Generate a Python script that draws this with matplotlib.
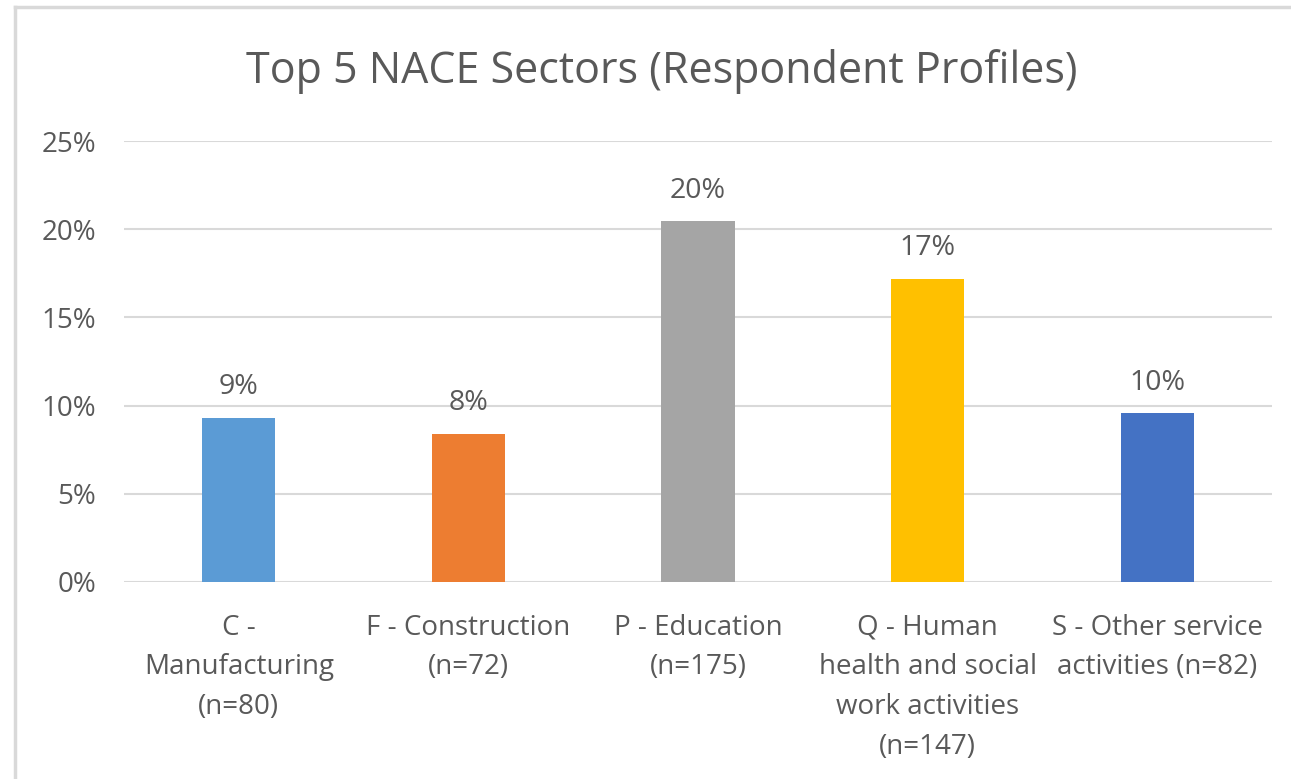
import matplotlib.pyplot as plt
from matplotlib.lines import Line2D

# Data
sectors = [
    "C -\nManufacturing\n(n=80)",
    "F - Construction\n(n=72)",
    "P - Education\n(n=175)",
    "Q - Human\nhealth and social\nwork activities\n(n=147)",
    "S - Other service\nactivities (n=82)",
]
shares = [0.093, 0.084, 0.2045, 0.172, 0.0957]
share_labels = ["9%", "8%", "20%", "17%", "10%"]
bar_colors = ["#5B9BD5", "#ED7D31", "#A5A5A5", "#FFC000", "#4472C4"]
yticks = [0, 0.05, 0.10, 0.15, 0.20, 0.25]
ytick_labels = ["0%", "5%", "10%", "15%", "20%", "25%"]

text_col = "#595959"
grid_col = "#D9D9D9"
plt.rcParams['font.family'] = ['Open Sans', 'DejaVu Sans']

fig = plt.figure(figsize=(12.91, 7.79), dpi=100)
ax = fig.add_axes([124 / 1291, 1 - 582 / 779, 1148 / 1291, 441 / 779])

x = range(len(sectors))
bars = ax.bar(x, shares, width=0.318, color=bar_colors, zorder=3)

for b, lab in zip(bars, share_labels):
    ax.annotate(lab, (b.get_x() + b.get_width() / 2, b.get_height()),
                xytext=(0, 12), textcoords="offset points",
                ha="center", va="bottom", fontsize=20.5, color=text_col)

ax.set_xlim(-0.5, len(sectors) - 0.5)
ax.set_ylim(0, 0.25)
ax.set_yticks(yticks)
ax.set_yticklabels(ytick_labels, fontsize=20, color=text_col)
ax.set_xticks(list(x))
ax.set_xticklabels(sectors, fontsize=20, color=text_col, linespacing=1.55, va="top")
ax.tick_params(axis="both", length=0)
ax.tick_params(axis="y", pad=20)
ax.tick_params(axis="x", pad=23)
ax.grid(axis="y", color=grid_col, linewidth=1.5, zorder=0)
for s in ax.spines.values():
    s.set_visible(False)

fig.text(662 / 1291, 1 - 72 / 779, "Top 5 NACE Sectors (Respondent Profiles)",
         ha="center", va="center", fontsize=31, color=text_col)

# chart frame (left and top edges visible)
fig.add_artist(Line2D([15 / 1291, 15 / 1291], [0, 1 - 7 / 779], transform=fig.transFigure,
                      color=grid_col, linewidth=2.5))
fig.add_artist(Line2D([15 / 1291, 1], [1 - 7 / 779, 1 - 7 / 779], transform=fig.transFigure,
                      color=grid_col, linewidth=2.5))

fig.savefig("out.png", dpi=100)
